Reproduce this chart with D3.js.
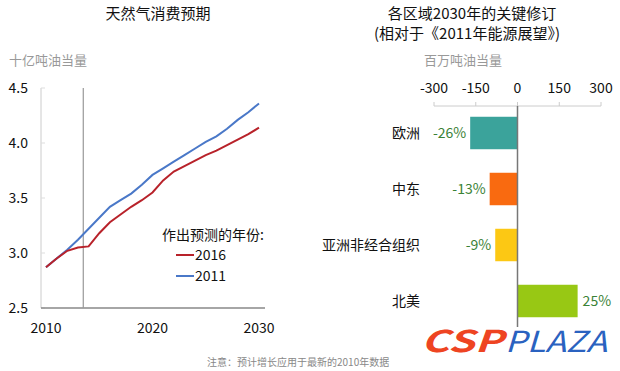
<!DOCTYPE html>
<html><head><meta charset="utf-8">
<script src="https://cdn.jsdelivr.net/npm/d3@7"></script>
<style>body{margin:0;background:#fff}svg{display:block}text{font-family:"Noto Sans CJK SC","Liberation Sans",Arial,sans-serif}</style>
</head><body><svg id="c" width="620" height="371"></svg>
<script>
// Left chart data
const years = d3.range(2010, 2031);
const forecast2011 = [2.87,2.95,3.03,3.12,3.22,3.32,3.42,3.48,3.54,3.62,3.71,3.77,3.83,3.89,3.95,4.01,4.06,4.13,4.21,4.28,4.36];
const forecast2016 = [2.87,2.95,3.02,3.05,3.06,3.18,3.28,3.35,3.42,3.48,3.55,3.66,3.74,3.79,3.84,3.89,3.93,3.98,4.03,4.08,4.14];
const leftYTicks = [2.5,3.0,3.5,4.0,4.5];
const leftXTicks = [2010,2020,2030];
const markerYear = 2013.5;
// Right chart data
const regions = ["欧洲","中东","亚洲非经合组织","北美"];
const revisions = [-170,-100,-80,216];
const pctLabels = ["-26%","-13%","-9%","25%"];
const barColors = ["#3ba39b","#f96a10","#fcc814","#98c814"];
const rightXTicks = [-300,-150,0,150,300];

const svg = d3.select("#c");

// ---------- Left chart ----------
const x1 = d3.scaleLinear().domain([2010,2030]).range([46,259]);
const y1 = d3.scaleLinear().domain([2.5,4.5]).range([308,88]);

svg.append("text").attr("x",158).attr("y",19).attr("text-anchor","middle")
  .attr("font-size",15).attr("fill","#111").text("天然气消费预期");
svg.append("text").attr("x",9).attr("y",65).attr("font-size",13).attr("fill","#999").text("十亿吨油当量");

svg.append("line").attr("x1",41).attr("x2",41).attr("y1",88).attr("y2",308).attr("stroke","#ccc");
svg.append("g").selectAll("line").data(leftYTicks).join("line")
  .attr("x1",41).attr("x2",45).attr("y1",d=>y1(d)).attr("y2",d=>y1(d)).attr("stroke","#ddd");
svg.append("g").selectAll("text").data(leftYTicks).join("text")
  .attr("x",28).attr("y",d=>y1(d)+5).attr("text-anchor","end").attr("font-size",14)
  .attr("font-family","Liberation Sans, Arial, sans-serif").attr("fill","#111")
  .text(d=>d.toFixed(1));
svg.append("line").attr("x1",41).attr("x2",265).attr("y1",308).attr("y2",308).attr("stroke","#888").attr("stroke-width",1.5);
svg.append("g").selectAll("text").data(leftXTicks).join("text")
  .attr("x",d=>x1(d)).attr("y",333).attr("text-anchor","middle").attr("font-size",14)
  .attr("font-family","Liberation Sans, Arial, sans-serif").attr("fill","#111").text(d=>d);
svg.append("line").attr("x1",x1(markerYear)).attr("x2",x1(markerYear)).attr("y1",88).attr("y2",308)
  .attr("stroke","#999").attr("stroke-width",1.2);

const line = d3.line().x((d,i)=>x1(years[i])).y(d=>y1(d));
svg.append("path").datum(forecast2011).attr("d",line).attr("fill","none").attr("stroke","#4a78c8").attr("stroke-width",2);
svg.append("path").datum(forecast2016).attr("d",line).attr("fill","none").attr("stroke","#b8222a").attr("stroke-width",2);

// legend
svg.append("text").attr("x",213).attr("y",240).attr("text-anchor","middle").attr("font-size",14).attr("fill","#111").text("作出预测的年份:");
const leg = [["2016","#b8222a",255],["2011","#4a78c8",276]];
leg.forEach(([t,c,y])=>{
  svg.append("line").attr("x1",176).attr("x2",194).attr("y1",y).attr("y2",y).attr("stroke",c).attr("stroke-width",2);
  svg.append("text").attr("x",195).attr("y",y+5).attr("font-size",14)
    .attr("font-family","Liberation Sans, Arial, sans-serif").attr("fill","#111").text(t);
});

svg.append("text").attr("x",207).attr("y",366).attr("font-size",10).attr("fill","#888").text("注意：预计增长应用于最新的2010年数据");

// ---------- Right chart ----------
const x2 = d3.scaleLinear().domain([-300,300]).range([434,601]);
const y2 = d3.scaleBand().domain(regions).range([105,329]).paddingInner(0.42).paddingOuter(0.21);

svg.append("text").attr("x",472).attr("y",19).attr("text-anchor","middle").attr("font-size",15).attr("fill","#111").text("各区域2030年的关键修订");
svg.append("text").attr("x",467).attr("y",39).attr("text-anchor","middle").attr("font-size",15).attr("fill","#111").text("(相对于《2011年能源展望》)");
svg.append("text").attr("x",463).attr("y",65).attr("text-anchor","middle").attr("font-size",13).attr("fill","#999").text("百万吨油当量");

svg.append("g").selectAll("text").data(rightXTicks).join("text")
  .attr("x",d=>x2(d)).attr("y",93).attr("text-anchor","middle").attr("font-size",14)
  .attr("font-family","Liberation Sans, Arial, sans-serif").attr("fill","#111").text(d=>d);
svg.append("line").attr("x1",x2(-300)).attr("x2",x2(300)).attr("y1",106).attr("y2",106).attr("stroke","#ccc");
svg.append("g").selectAll("line").data(rightXTicks).join("line")
  .attr("x1",d=>x2(d)).attr("x2",d=>x2(d)).attr("y1",102).attr("y2",106).attr("stroke","#ccc");

svg.append("g").selectAll("rect").data(revisions).join("rect")
  .attr("x",d=>x2(Math.min(0,d))).attr("width",d=>Math.abs(x2(d)-x2(0)))
  .attr("y",(d,i)=>y2(regions[i])).attr("height",y2.bandwidth())
  .attr("fill",(d,i)=>barColors[i]);

svg.append("line").attr("x1",x2(0)).attr("x2",x2(0)).attr("y1",106).attr("y2",327).attr("stroke","#777").attr("stroke-width",1.5);

svg.append("g").selectAll("text").data(regions).join("text")
  .attr("x",420).attr("y",d=>y2(d)+y2.bandwidth()/2+5).attr("text-anchor","end")
  .attr("font-size",14).attr("fill","#111").text(d=>d);
svg.append("g").selectAll("text").data(revisions).join("text")
  .attr("x",d=>d<0?x2(d)-4:x2(d)+5)
  .attr("y",(d,i)=>y2(regions[i])+y2.bandwidth()/2+5)
  .attr("text-anchor",d=>d<0?"end":"start")
  .attr("font-size",14).attr("font-family","Liberation Sans, Arial, sans-serif").attr("fill","#3a8236")
  .text((d,i)=>pctLabels[i]);

// watermark
svg.append("text").attr("x",421).attr("y",352).attr("font-size",30).attr("font-weight","bold").attr("font-style","italic")
  .attr("font-family","Liberation Sans, Arial, sans-serif").attr("fill","#ee4422")
  .attr("textLength",82).attr("lengthAdjust","spacingAndGlyphs").text("CSP");
svg.append("text").attr("x",505).attr("y",352).attr("font-size",29).attr("font-style","italic")
  .attr("font-family","Liberation Sans, Arial, sans-serif").attr("fill","#2a62c0")
  .attr("textLength",102).attr("lengthAdjust","spacingAndGlyphs").text("PLAZA");
</script></body></html>
